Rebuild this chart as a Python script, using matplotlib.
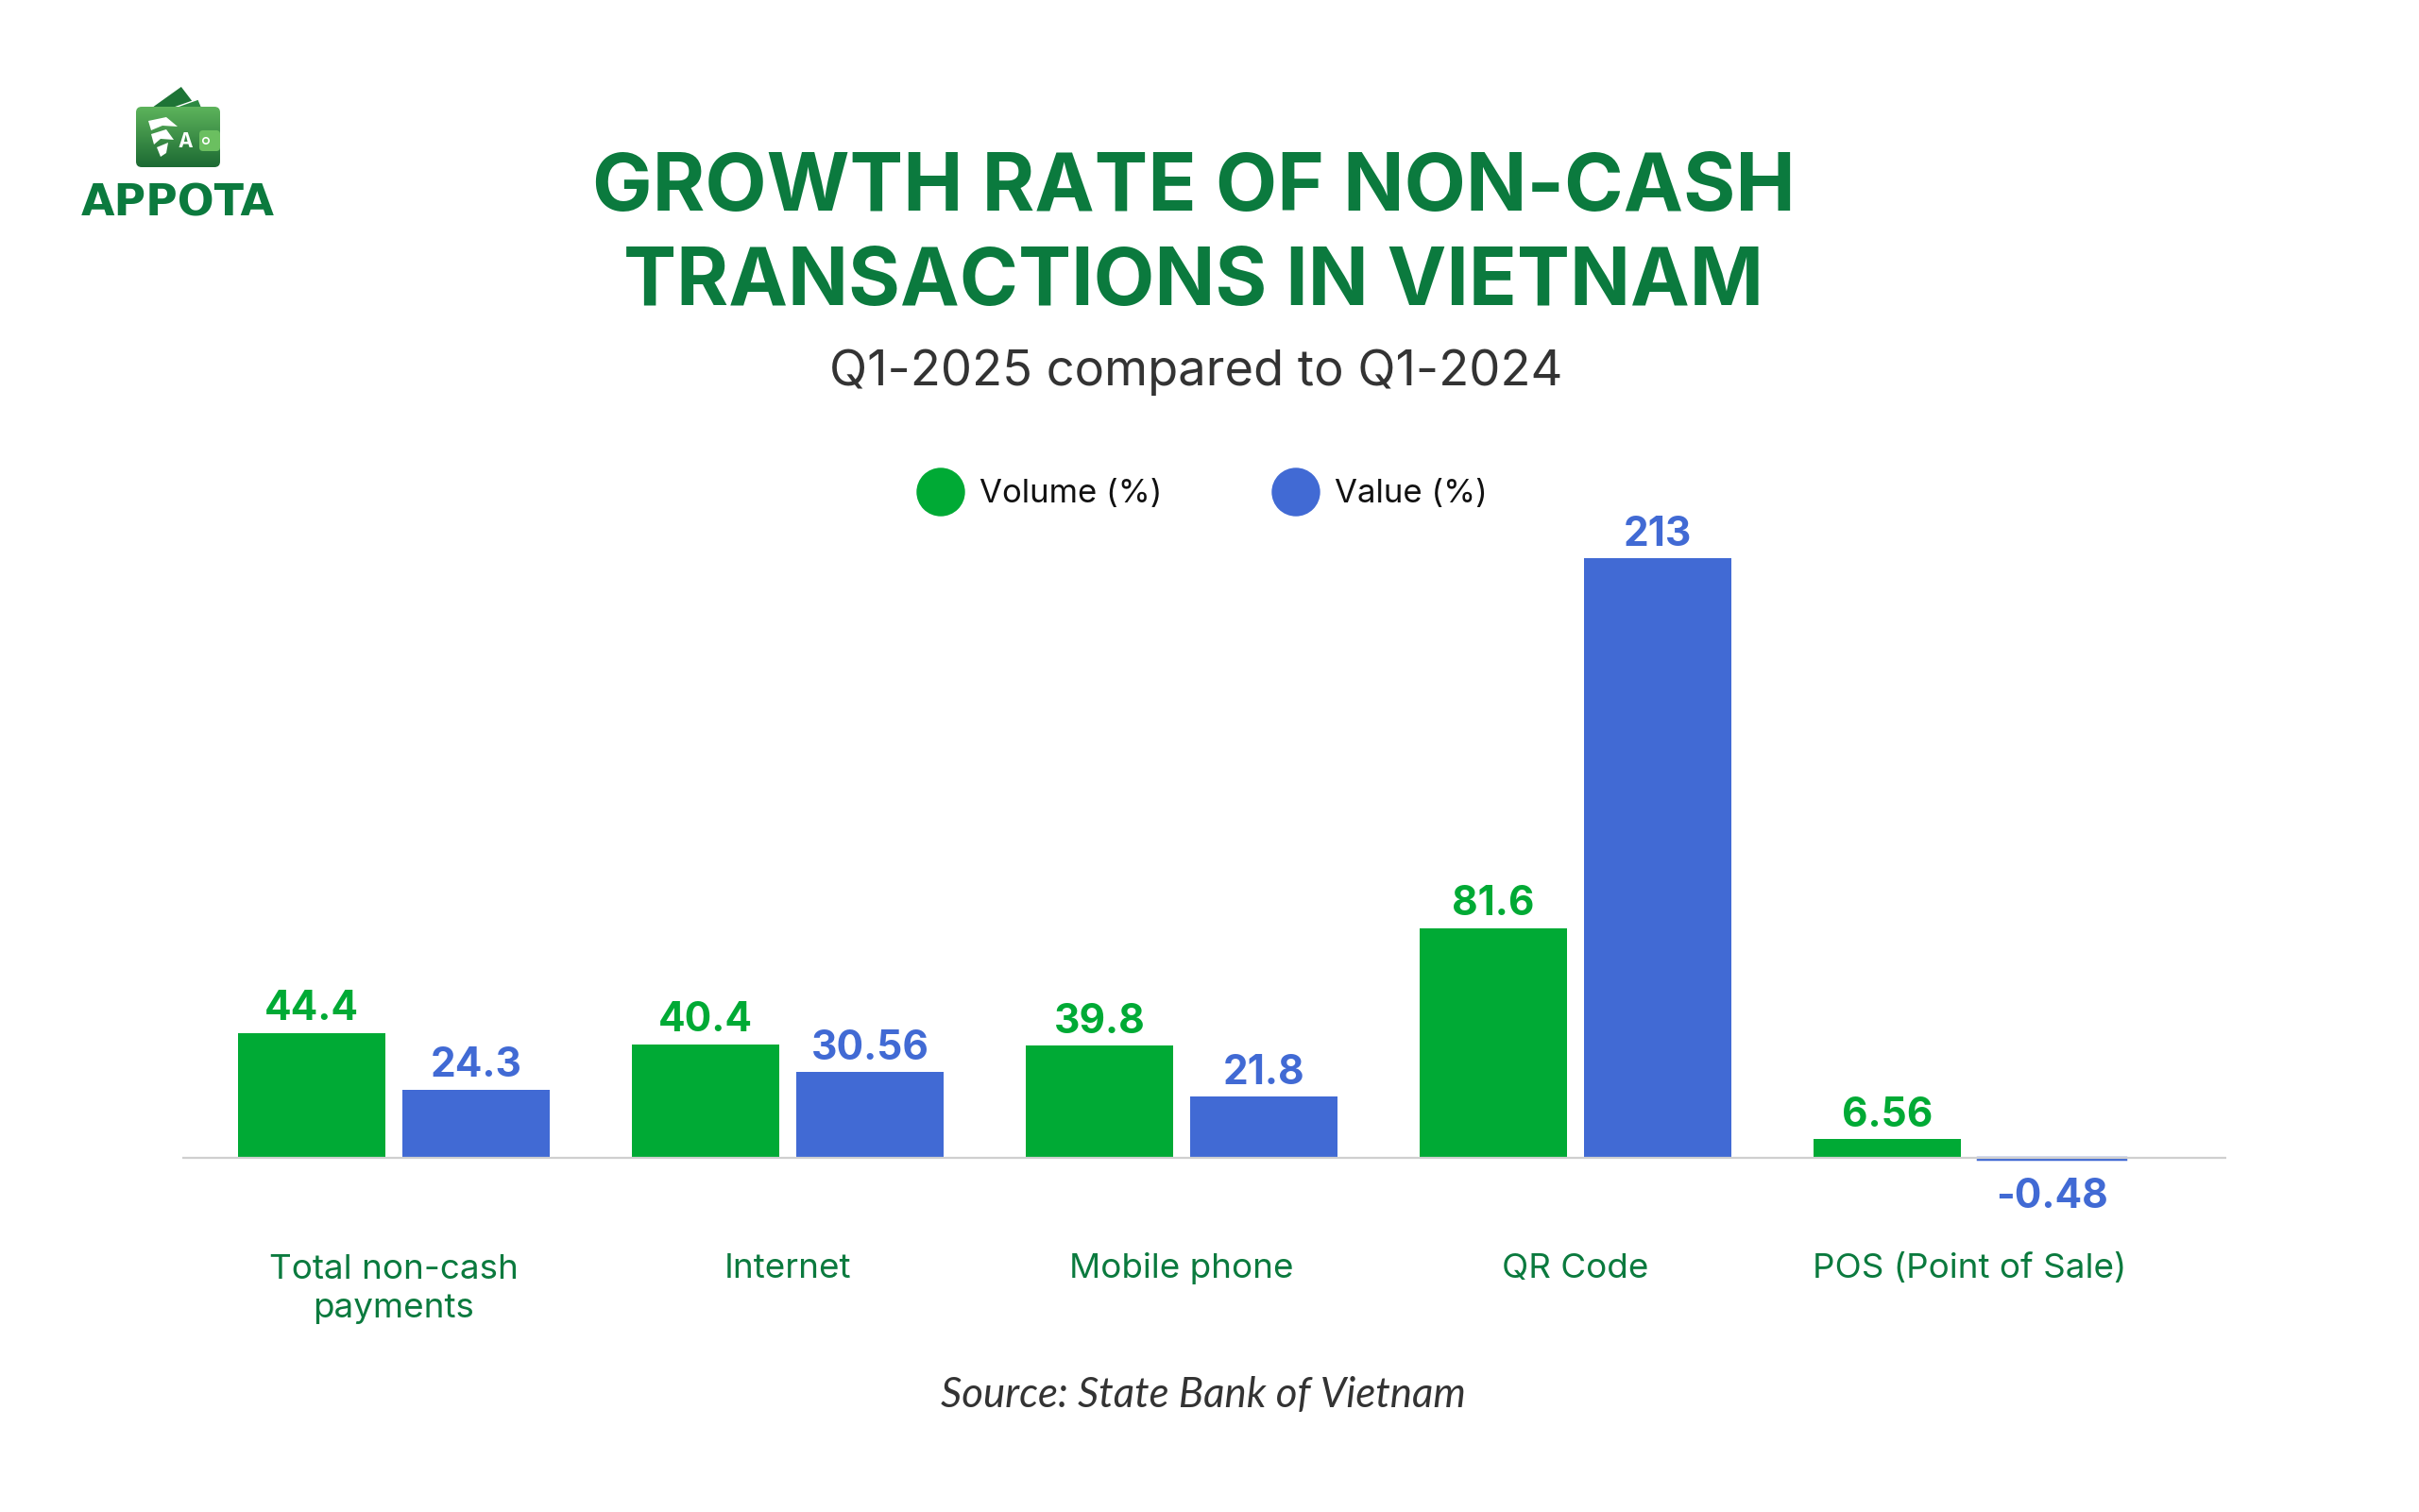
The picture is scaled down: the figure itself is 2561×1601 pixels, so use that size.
import numpy as np
import matplotlib
matplotlib.use("Agg")
import matplotlib.pyplot as plt
from matplotlib.patches import Circle, FancyBboxPatch, Polygon

# data
categories = ["Total non-cash\npayments", "Internet", "Mobile phone", "QR Code", "POS (Point of Sale)"]
volume = [44.4, 40.4, 39.8, 81.6, 6.56]
value = [24.3, 30.56, 21.8, 213, -0.48]
volume_labels = ["44.4", "40.4", "39.8", "81.6", "6.56"]
value_labels = ["24.3", "30.56", "21.8", "213", "-0.48"]

GREEN = "#00AA35"
BLUE = "#416AD4"
DARK_GREEN = "#0B7A3E"

plt.rcParams['font.family'] = ['Inter', 'DejaVu Sans']

W, H = 2561, 1601
fig = plt.figure(figsize=(W / 100, H / 100), dpi=100)
fig.patch.set_facecolor("white")

def fx(px):
    return px / W

def fy(py):
    return 1 - py / H

# main axes, placed in pixels
ymin, ymax = -50, 230
base_px, unit_px = 1226, 2.9826
top_px = base_px - ymax * unit_px
bot_px = base_px - ymin * unit_px
ax = fig.add_axes([fx(193), fy(bot_px), (2357 - 193) / W, (bot_px - top_px) / H])
ax.set_xlim(-0.537, 4.652)
ax.set_ylim(ymin, ymax)
ax.axis("off")

x = np.arange(len(categories))
bw = 0.374
off = 0.2086
b1 = ax.bar(x - off, volume, bw, color=GREEN, zorder=2)
b2 = ax.bar(x + off, value, bw, color=BLUE, zorder=2)
for p, v in zip(b2, value):
    if v < 0:
        p.set_edgecolor(BLUE)
        p.set_linewidth(2.5)
ax.axhline(0, color="#cfcfcf", lw=1.6, zorder=3)

for xi, v, t in zip(x, volume, volume_labels):
    ax.annotate(t, (xi - off, v), xytext=(0, 9.5), textcoords="offset points",
                ha="center", va="baseline", fontsize=30.5, fontweight="bold", color=GREEN)
for xi, v, t in zip(x, value, value_labels):
    if v >= 0:
        ax.annotate(t, (xi + off, v), xytext=(0, 9.5), textcoords="offset points",
                    ha="center", va="baseline", fontsize=30.5, fontweight="bold", color=BLUE)
    else:
        ax.annotate(t, (xi + off, v), xytext=(0, -14), textcoords="offset points",
                    ha="center", va="top", fontsize=30.5, fontweight="bold", color=BLUE)

# category names: last line baseline sits one line gap lower per extra line
for xi, c in zip(x, categories):
    ypx = 1353 + 42 * c.count("\n")
    ax.text(xi, (base_px - ypx) / unit_px, c, ha="center", va="baseline",
            fontsize=26.5, color=DARK_GREEN, linespacing=1.3)

# titles
fig.text(fx(1264), fy(223), "GROWTH RATE OF NON-CASH", ha="center", va="baseline",
         fontsize=61, fontweight="bold", color=DARK_GREEN)
fig.text(fx(1264), fy(323), "TRANSACTIONS IN VIETNAM", ha="center", va="baseline",
         fontsize=60.5, fontweight="bold", color=DARK_GREEN)
fig.text(fx(1266), fy(408), "Q1-2025 compared to Q1-2024", ha="center", va="baseline",
         fontsize=37.8, color="#333333")
fig.text(fx(1274), fy(1490), "Source: State Bank of Vietnam", ha="center", va="baseline",
         fontsize=31.5, color="#333333", family="Lato", style="italic")

# overlay in pixel coords for legend dots and logo
deco = fig.add_axes([0, 0, 1, 1])
deco.set_xlim(0, W)
deco.set_ylim(H, 0)
deco.axis("off")

deco.add_patch(Circle((996, 521), 25, color=GREEN))
deco.add_patch(Circle((1372, 521), 25, color=BLUE))
deco.text(1037, 532, "Volume (%)", ha="left", va="baseline", fontsize=25, color="#111111")
deco.text(1413, 532, "Value (%)", ha="left", va="baseline", fontsize=25, color="#111111")

# logo
deco.add_patch(Polygon([(157, 116), (192, 91), (205, 108), (180, 116)], closed=True,
                       facecolor="#1E7436", edgecolor="white", lw=1))
deco.add_patch(Polygon([(176, 117), (210, 105), (215, 117)], closed=True,
                       facecolor="#2D8A42", edgecolor="white", lw=1))
body = FancyBboxPatch((144, 113), 89, 64, boxstyle="round,pad=0,rounding_size=6",
                      facecolor="none", edgecolor="none")
deco.add_patch(body)
grad = np.linspace(0, 1, 64).reshape(-1, 1) * np.ones((1, 89))
img = deco.imshow(grad, extent=(144, 233, 177, 113), cmap=matplotlib.colors.LinearSegmentedColormap.from_list(
    "w", ["#5DB35B", "#1C6A33"]), aspect="auto", zorder=2)
img.set_clip_path(body)
deco.set_xlim(0, W)
deco.set_ylim(H, 0)
deco.add_patch(FancyBboxPatch((211, 138), 22, 22, boxstyle="round,pad=0,rounding_size=4",
                              facecolor="#6BBF60", edgecolor="none", zorder=3))
deco.add_patch(Circle((218, 149), 3.2, facecolor="#6BBF60", edgecolor="white", lw=1.2, zorder=4))
deco.add_patch(Polygon([(157, 128), (176, 124), (188, 134), (172, 133), (160, 138)], closed=True,
                       facecolor="white", edgecolor="none", zorder=4))
deco.add_patch(Polygon([(160, 142), (176, 137), (184, 148), (170, 147), (163, 153)], closed=True,
                       facecolor="white", edgecolor="none", zorder=4))
deco.add_patch(Polygon([(166, 156), (178, 151), (176, 162), (170, 166)], closed=True,
                       facecolor="white", edgecolor="none", zorder=4))
deco.text(196, 156, "A", ha="center", va="baseline", fontsize=15, fontweight="bold",
          color="white", zorder=5)
deco.text(188, 228, "APPOTA", ha="center", va="baseline", fontsize=33, fontweight="bold",
          color=DARK_GREEN, family="DejaVu Sans")

fig.savefig("out.png", dpi=100, facecolor="white")
